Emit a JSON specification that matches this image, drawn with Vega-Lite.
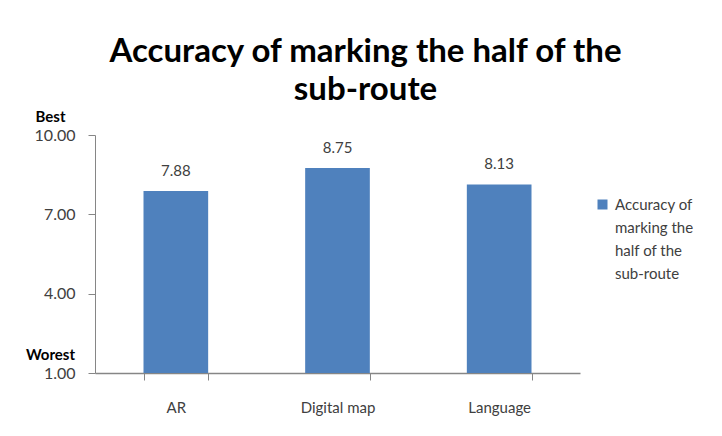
{
  "$schema": "https://vega.github.io/schema/vega-lite/v6.json",
  "autosize": {"type": "none"},
  "width": 485,
  "height": 238,
  "padding": {"left": 95, "top": 135, "right": 142, "bottom": 63},
  "background": "white",
  "config": {
    "view": {"stroke": null},
    "font": "Lato",
    "axis": {"labelFont": "Lato", "labelColor": "#404040", "labelFontSize": 15, "domainColor": "#868686", "tickColor": "#868686", "grid": false, "title": null},
    "legend": {"labelFont": "Lato", "labelColor": "#404040", "labelFontSize": 15}
  },
  "title": {
    "text": ["Accuracy of marking the half of the", "sub-route"],
    "font": "Lato",
    "fontSize": 33,
    "fontWeight": "bold",
    "color": "#000000",
    "lineHeight": 38,
    "anchor": "middle",
    "dx": 28,
    "offset": 2
  },
  "data": {
    "values": [
      {"method": "AR", "score": 7.88, "series": "Accuracy of marking the half of the sub-route"},
      {"method": "Digital map", "score": 8.75, "series": "Accuracy of marking the half of the sub-route"},
      {"method": "Language", "score": 8.13, "series": "Accuracy of marking the half of the sub-route"}
    ]
  },
  "encoding": {
    "x": {
      "field": "method",
      "type": "nominal",
      "sort": null,
      "scale": {"paddingInner": 0.6, "paddingOuter": 0.3},
      "axis": {"labelAngle": 0, "tickBand": "extent", "tickSize": 7, "labelPadding": 20, "domainWidth": 1.5}
    },
    "y": {
      "field": "score",
      "type": "quantitative",
      "scale": {"domain": [1, 10], "nice": false, "zero": false}
    }
  },
  "layer": [
    {
      "mark": {"type": "bar", "color": "#4F81BD"},
      "encoding": {
        "color": {
          "field": "series",
          "type": "nominal",
          "scale": {"range": ["#4F81BD"]},
          "legend": {
            "title": null,
            "orient": "none",
            "legendX": 500,
            "legendY": 62,
            "symbolType": "square",
            "symbolSize": 100,
            "labelExpr": "['Accuracy of', 'marking the', 'half of the', 'sub-route']",
            "labelBaseline": "top",
            "labelOffset": 5,
            "labelFontSize": 15,
            "encode": {"labels": {"update": {"lineHeight": {"value": 23}, "dy": {"value": -7}}}}
          }
        },
        "y": {
          "field": "score",
          "type": "quantitative",
          "axis": {"values": [1, 4, 7, 10], "format": ".2f", "tickSize": 7, "labelPadding": 13, "labelFontSize": 16, "domainWidth": 1}
        },
        "y2": {"datum": 1}
      }
    },
    {
      "mark": {"type": "text", "dy": -20, "fontSize": 15, "color": "#404040", "font": "Lato"},
      "encoding": {
        "text": {"field": "score", "type": "quantitative", "format": ".2f"},
        "y": {
          "field": "score",
          "type": "quantitative",
          "axis": {
            "orient": "left",
            "values": [1, 10],
            "ticks": false,
            "domain": false,
            "labelExpr": "datum.value == 10 ? 'Best' : 'Worest'",
            "labelFontWeight": "bold",
            "labelColor": "#000000",
            "labelFontSize": 15,
            "labelAlign": "center",
            "labelPadding": 45,
            "labelOffset": -19
          }
        }
      }
    }
  ],
  "resolve": {"axis": {"y": "independent"}}
}
